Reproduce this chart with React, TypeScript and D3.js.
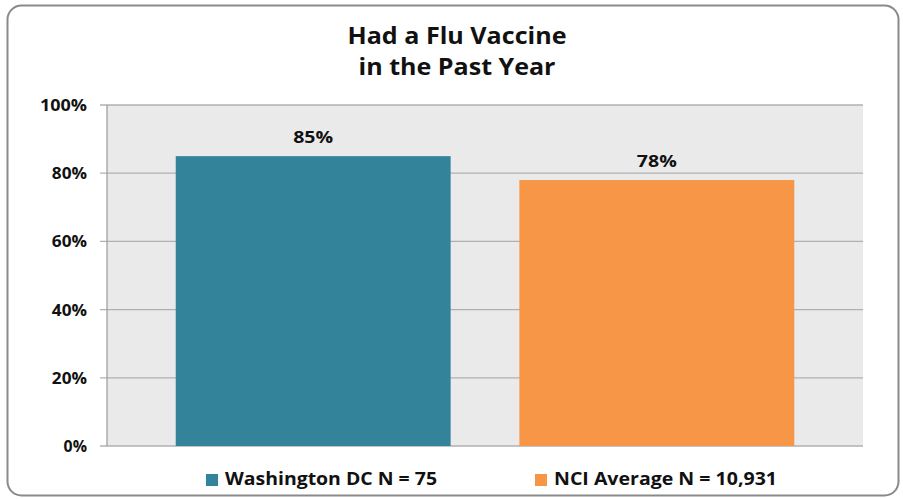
import React from "react";
import * as d3 from "d3";

const series = ["Washington DC N = 75", "NCI Average N = 10,931"];
const values = [85, 78];
const labels = ["85%", "78%"];
const colors = ["#33849B", "#F79646"];
const yTicks = [0, 20, 40, 60, 80, 100];
const titleLines = ["Had a Flu Vaccine", "in the Past Year"];

// approximate rendered widths of the reference's (wider) font
const stretch = (s: string, size: number) => s.length * size * 0.6;

export default function App() {
  const W = 903, H = 499;
  const left = 107, right = 863, top = 105, bottom = 446;
  const x = d3.scaleBand<string>().domain(series).range([left, right]).paddingInner(0.2).paddingOuter(0.2);
  const y = d3.scaleLinear().domain([0, 100]).range([bottom, top]);
  const font = "'Open Sans', 'DejaVu Sans', sans-serif";
  const legendX = [206, 535];
  const titleW = [219, 197];
  const legendW = [212, 223];
  const tickW = (t: number) => (String(t).length + 1) * 11.8 - 0.2;
  return (
    <svg width={W} height={H} style={{ position: "absolute", left: 0, top: 0 }} fontFamily={font}>
      <rect x={0} y={0} width={W} height={H} fill="#fff" />
      <rect x={7.5} y={5.5} width={891} height={490} rx={14} fill="#fff" stroke="#8a8a8a" strokeWidth={2} />
      {titleLines.map((t, i) => (
        <text key={t} x={457} y={44 + i * 31} textAnchor="middle" fontSize={23.5} fontWeight="bold" fill="#111"
          textLength={titleW[i]} lengthAdjust="spacingAndGlyphs">{t}</text>
      ))}
      <rect x={left} y={top} width={right - left} height={bottom - top} fill="#EAEAEA" />
      {yTicks.map((t) => (
        <g key={t}>
          <line x1={left - 7} x2={right} y1={y(t)} y2={y(t)} stroke="#b0b0b0" strokeWidth={1.3} />
          <text x={87} y={y(t) + 6} textAnchor="end" fontSize={15.5} fontWeight="bold" fill="#111"
            textLength={tickW(t)} lengthAdjust="spacingAndGlyphs">{t}%</text>
        </g>
      ))}
      <line x1={left} x2={left} y1={top} y2={bottom} stroke="#a0a0a0" strokeWidth={1.3} />
      {series.map((s, i) => (
        <g key={s}>
          <rect x={x(s)!} y={y(values[i])} width={x.bandwidth()} height={bottom - y(values[i])} fill={colors[i]} />
          <text x={x(s)! + x.bandwidth() / 2} y={y(values[i]) - 13} textAnchor="middle" fontSize={16.5} fontWeight="bold" fill="#111"
            textLength={40} lengthAdjust="spacingAndGlyphs">{labels[i]}</text>
        </g>
      ))}
      {series.map((s, i) => (
        <g key={"lg" + s}>
          <rect x={legendX[i]} y={474} width={12} height={12} fill={colors[i]} />
          <text x={legendX[i] + 19} y={485} fontSize={17} fontWeight="bold" fill="#111"
            textLength={legendW[i]} lengthAdjust="spacingAndGlyphs">{s}</text>
        </g>
      ))}
    </svg>
  );
}
